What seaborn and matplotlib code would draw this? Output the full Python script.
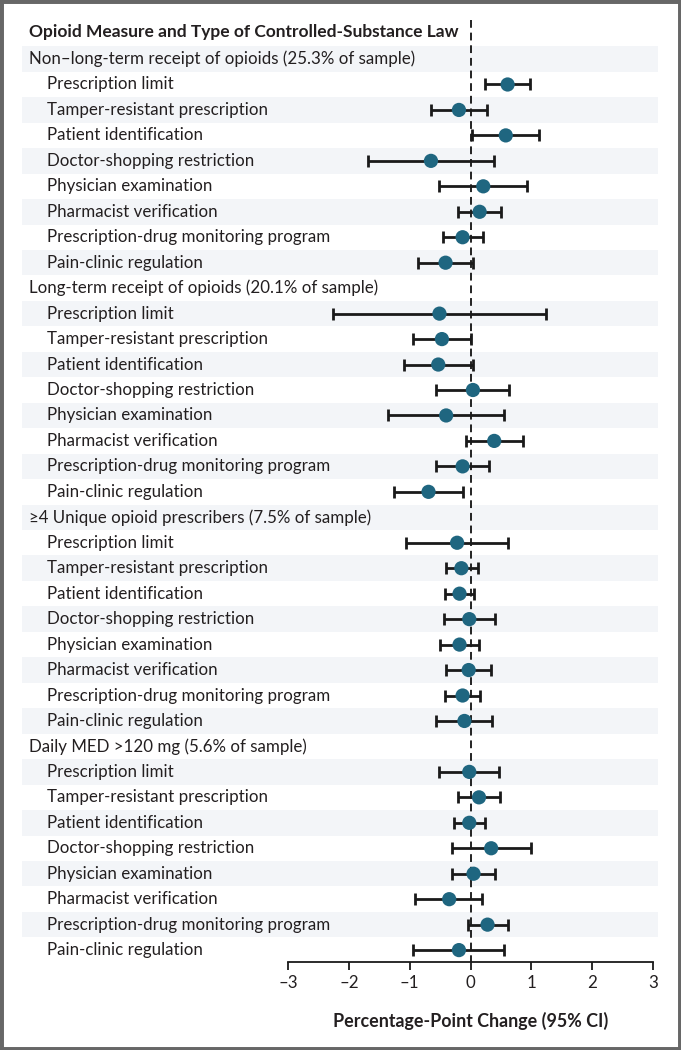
import matplotlib
matplotlib.use("Agg")
import matplotlib.pyplot as plt
import seaborn as sns
import pandas as pd
import numpy as np
from matplotlib.patches import Rectangle
from matplotlib.transforms import blended_transform_factory

# ---------------- data ----------------
groups = [
    "Non\u2013long-term receipt of opioids (25.3% of sample)",
    "Long-term receipt of opioids (20.1% of sample)",
    "\u22654 Unique opioid prescribers (7.5% of sample)",
    "Daily MED >120 mg (5.6% of sample)",
]
laws = [
    "Prescription limit",
    "Tamper-resistant prescription",
    "Patient identification",
    "Doctor-shopping restriction",
    "Physician examination",
    "Pharmacist verification",
    "Prescription-drug monitoring program",
    "Pain-clinic regulation",
]
est_nonlong = [0.61, -0.19, 0.58, -0.65, 0.21, 0.15, -0.13, -0.41]
lo_nonlong = [0.24, -0.65, 0.02, -1.69, -0.51, -0.21, -0.46, -0.87]
hi_nonlong = [0.97, 0.27, 1.12, 0.38, 0.93, 0.50, 0.21, 0.04]

est_long = [-0.51, -0.47, -0.53, 0.04, -0.40, 0.39, -0.13, -0.69]
lo_long = [-2.26, -0.95, -1.09, -0.57, -1.35, -0.08, -0.56, -1.26]
hi_long = [1.24, 0.01, 0.04, 0.64, 0.55, 0.87, 0.30, -0.13]

est_presc = [-0.22, -0.15, -0.18, -0.02, -0.18, -0.03, -0.13, -0.10]
lo_presc = [-1.06, -0.40, -0.42, -0.44, -0.50, -0.40, -0.42, -0.57]
hi_presc = [0.62, 0.12, 0.05, 0.40, 0.14, 0.34, 0.16, 0.36]

est_med = [-0.02, 0.14, -0.02, 0.34, 0.05, -0.35, 0.28, -0.19]
lo_med = [-0.51, -0.21, -0.27, -0.31, -0.31, -0.91, -0.04, -0.95]
hi_med = [0.47, 0.48, 0.24, 0.99, 0.40, 0.19, 0.61, 0.55]

ticks = [-3, -2, -1, 0, 1, 2, 3]
tick_labels = ["\u20133", "\u20132", "\u20131", "0", "1", "2", "3"]
title = "Opioid Measure and Type of Controlled-Substance Law"
xlabel = "Percentage-Point Change (95% CI)"

# ---------------- table ----------------
ests = [est_nonlong, est_long, est_presc, est_med]
los = [lo_nonlong, lo_long, lo_presc, lo_med]
his = [hi_nonlong, hi_long, hi_presc, hi_med]
rows = []
row = 0
header_rows = []
for g, e, l, h in zip(groups, ests, los, his):
    header_rows.append((row, g))
    row += 1
    for law, ee, ll, hh in zip(laws, e, l, h):
        rows.append(dict(group=g, law=law, est=ee, lo=ll, hi=hh, row=row))
        row += 1
n_rows = row
df = pd.DataFrame(rows)

# ---------------- style ----------------
sns.set_theme(style="white")
plt.rcParams["font.family"] = ["Lato", "DejaVu Sans"]
text_col = "#231f20"
dot_col = "#1f6680"
band_col = "#f3f5f8"
fs = 12.2

fig = plt.figure(figsize=(6.81, 10.5), dpi=100)
W, H = 681, 1050
ax_left_px, ax_right_px = 22, 658
top_px, bottom_px = 46.3, 962
row0_px, row_step = 59, 25.46
ax = fig.add_axes([ax_left_px / W, 1 - bottom_px / H,
                   (ax_right_px - ax_left_px) / W, (bottom_px - top_px) / H])

zero_px, unit_px = 470.5, 60.83
xmin = (ax_left_px - zero_px) / unit_px
xmax = (ax_right_px - zero_px) / unit_px
ax.set_xlim(xmin, xmax)
y_bottom = (bottom_px - row0_px) / row_step
ax.set_ylim(y_bottom, -0.5)

# alternating bands
for r in range(n_rows):
    if r % 2 == 0:
        ax.axhspan(r - 0.5, r + 0.5, color=band_col, lw=0, zorder=0)

# zero line
ax.vlines(0, (20 - row0_px) / row_step, y_bottom, colors="#222222",
          linestyles=(0, (4, 2.5)), lw=1.4, clip_on=False, zorder=1)

# CIs
ax.errorbar(df["est"], df["row"],
            xerr=[df["est"] - df["lo"], df["hi"] - df["est"]],
            fmt="none", ecolor="#1a1a1a", elinewidth=2.0, capsize=4.2,
            capthick=2.0, zorder=2)
sns.scatterplot(data=df, x="est", y="row", ax=ax, s=105, color=dot_col,
                edgecolor="none", zorder=3, legend=False)

# labels
tr = blended_transform_factory(ax.transAxes, ax.transData)
for r, g in header_rows:
    ax.text((29 - ax_left_px) / (ax_right_px - ax_left_px), r, g,
            transform=tr, ha="left", va="center", fontsize=fs, color=text_col)
for _, rr in df.iterrows():
    ax.text((47 - ax_left_px) / (ax_right_px - ax_left_px), rr["row"], rr["law"],
            transform=tr, ha="left", va="center", fontsize=fs, color=text_col)

# axes styling
for s in ["top", "left", "right"]:
    ax.spines[s].set_visible(False)
ax.spines["bottom"].set_bounds(-3, 3)
ax.spines["bottom"].set_color("#1a1a1a")
ax.spines["bottom"].set_linewidth(1.3)
ax.set_xticks(ticks)
ax.set_xticklabels(tick_labels, fontsize=fs, color=text_col)
ax.tick_params(axis="x", direction="out", length=6, width=1.3, color="#1a1a1a", pad=3,
               bottom=True)
ax.set_yticks([])
ax.set_xlabel("")
ax.set_ylabel("")
ax.patch.set_alpha(0)

fig.text(29 / W, 1 - 32 / H, title, ha="left", va="center", fontsize=12.5,
         fontweight="bold", color=text_col)
fig.text(zero_px / W, 1 - 1021 / H, xlabel, ha="center", va="center",
         fontsize=12.9, fontweight="bold", color=text_col)

fig.patches.append(Rectangle((0, 0), 1, 1, transform=fig.transFigure, fill=False,
                             edgecolor="#676767", linewidth=5, zorder=10))

fig.savefig("out.png", dpi=100)
